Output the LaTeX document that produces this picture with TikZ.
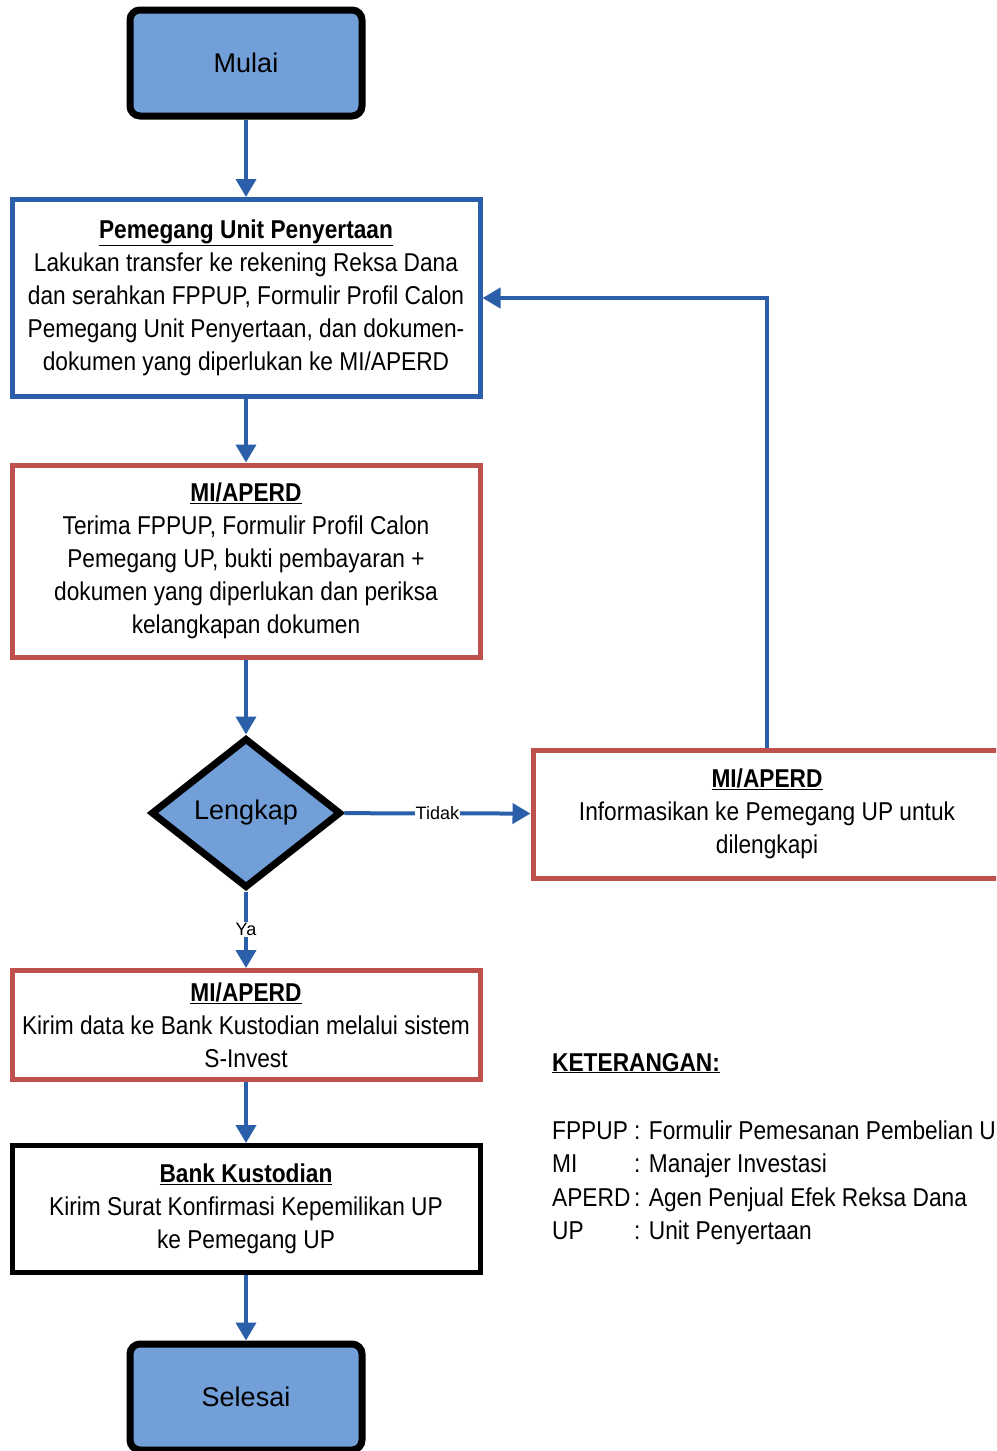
\documentclass[tikz,border=0pt]{standalone}
\usepackage{fontspec}
\setmainfont{Liberation Sans}
\newfontfamily\narrowfont[FakeStretch=0.88]{Liberation Sans}
\usetikzlibrary{arrows.meta,shapes.geometric}
\definecolor{flowblue}{RGB}{43,95,170}
\definecolor{fillblue}{RGB}{114,159,216}
\definecolor{boxred}{RGB}{192,80,77}
\begin{document}
\begin{tikzpicture}
[x=1pt,y=-1pt,
terminal/.style={draw=black,line width=7pt,fill=fillblue,rounded corners=10pt,minimum width=232pt,minimum height=106pt,font=\fontsize{27}{32}\selectfont},
task/.style={draw,line width=5pt,minimum width=468pt,align=center,inner sep=0pt,font=\narrowfont\fontsize{25.8}{33}\selectfont},
decision/.style={draw=black,line width=7pt,fill=fillblue,diamond,aspect=1.27,inner sep=0pt,minimum width=190pt,minimum height=150pt,font=\fontsize{27}{32}\selectfont},
flow/.style={draw=flowblue,line width=4pt,-{Triangle[length=18pt,width=20pt]}},
branch/.style={fill=white,inner sep=1pt,font=\fontsize{18}{20}\selectfont},
legend/.style={anchor=base west,inner sep=0pt,font=\narrowfont\fontsize{25.8}{33}\selectfont},]

%Page frame
\useasboundingbox (0,0) rectangle (996,1451);
\clip (0,0) rectangle (996,1451);

%Start and end
\node (mulai) at (246,63)[terminal] {Mulai};
\node (selesai) at (246,1397)[terminal] {Selesai};

%Process boxes
\node (pup) at (246,298)[task,draw=flowblue,minimum height=197pt] {\underline{\textbf{Pemegang Unit Penyertaan}}\\Lakukan transfer ke rekening Reksa Dana\\dan serahkan FPPUP, Formulir Profil Calon\\Pemegang Unit Penyertaan, dan dokumen-\\dokumen yang diperlukan ke MI/APERD};
\node (terima) at (246,561)[task,draw=boxred,minimum height=192pt] {\underline{\textbf{MI/APERD}}\\Terima FPPUP, Formulir Profil Calon\\Pemegang UP, bukti pembayaran +\\dokumen yang diperlukan dan periksa\\kelangkapan dokumen};
\node (lengkap) at (246,813)[decision] {Lengkap};
\node (info) at (767,814)[task,draw=boxred,minimum height=128pt] {\underline{\textbf{MI/APERD}}\\Informasikan ke Pemegang UP untuk\\dilengkapi};
\node (kirim) at (246,1025)[task,draw=boxred,minimum height=109pt] {\underline{\textbf{MI/APERD}}\\Kirim data ke Bank Kustodian melalui sistem\\S-Invest};
\node (bank) at (246,1209)[task,draw=black,minimum height=127pt] {\underline{\textbf{Bank Kustodian}}\\Kirim Surat Konfirmasi Kepemilikan UP\\ke Pemegang UP};

%Connectors
\draw[flow] (mulai) -- (pup);
\draw[flow] (pup) -- (terima);
\draw[flow] (terima) -- (lengkap);
\draw[flow] (lengkap) -- node[branch] {Tidak} (info);
\draw[flow] (lengkap) -- node[branch] {Ya} (kirim);
\draw[flow] (info.north) |- (pup.east);
\draw[flow] (kirim) -- (bank);
\draw[flow] (bank) -- (selesai);

%Legend
\node (ket) at (552,1071)[legend] {\underline{\textbf{KETERANGAN:}}};
\node (fppup) at (552,1139)[legend] {FPPUP};
\node (mi) at (552,1172)[legend] {MI};
\node (aperd) at (552,1206)[legend] {APERD};
\node (up) at (552,1239)[legend] {UP};
\node (fppupdef) at (634,1139)[legend] {: Formulir Pemesanan Pembelian U};
\node (midef) at (634,1172)[legend] {: Manajer Investasi};
\node (aperddef) at (634,1206)[legend] {: Agen Penjual Efek Reksa Dana};
\node (updef) at (634,1239)[legend] {: Unit Penyertaan};

\end{tikzpicture}
\end{document}
